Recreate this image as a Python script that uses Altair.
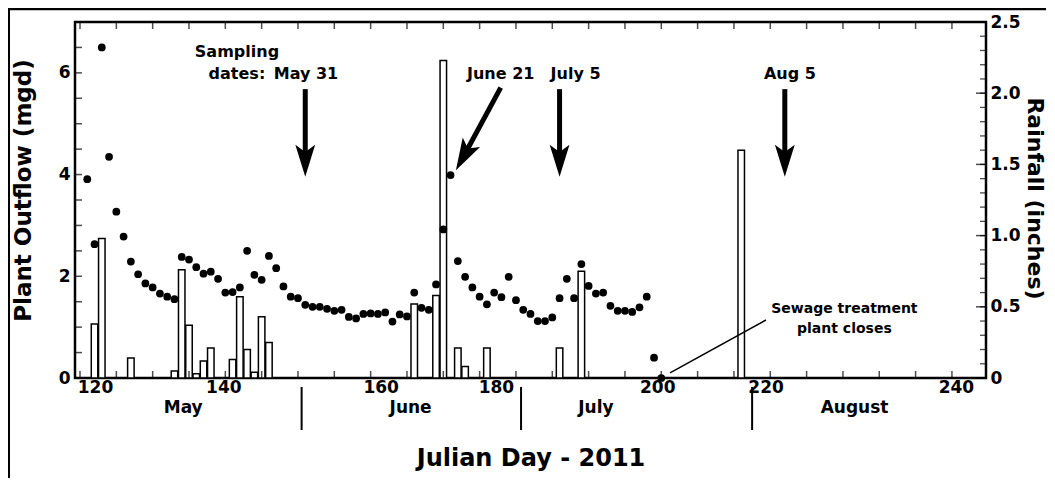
import altair as alt
import pandas as pd

# ---------------- data ----------------
flow_day = list(range(121, 201))
flow_mgd = [3.91, 2.63, 6.50, 4.35, 3.27, 2.78, 2.29, 2.04, 1.86, 1.78,
            1.66, 1.60, 1.55, 2.38, 2.33, 2.18, 2.05, 2.09, 1.95, 1.68,
            1.69, 1.78, 2.50, 2.03, 1.93, 2.40, 2.16, 1.80, 1.60, 1.57,
            1.44, 1.40, 1.40, 1.36, 1.32, 1.34, 1.20, 1.17, 1.26, 1.27,
            1.26, 1.29, 1.11, 1.25, 1.21, 1.68, 1.38, 1.34, 1.84, 2.92,
            3.99, 2.30, 1.99, 1.78, 1.60, 1.45, 1.68, 1.59, 1.99, 1.53,
            1.34, 1.26, 1.12, 1.12, 1.19, 1.57, 1.95, 1.57, 2.24, 1.81,
            1.66, 1.68, 1.42, 1.32, 1.32, 1.30, 1.39, 1.60, 0.40, 0.00]

rain_day = [122, 123, 127, 133, 134, 135, 136, 137, 138, 141, 142, 143,
            144, 145, 146, 166, 169, 170, 172, 173, 176, 186, 189, 211]
rain_in = [0.38, 0.98, 0.14, 0.05, 0.76, 0.37, 0.03, 0.12, 0.21, 0.13, 0.57, 0.20,
           0.04, 0.43, 0.25, 0.52, 0.58, 2.23, 0.21, 0.08, 0.21, 0.21, 0.75, 1.60]

x_tick_labels = [120, 140, 160, 180, 200, 220, 240]
left_tick_labels = [0, 2, 4, 6]
right_tick_labels = [0, 0.5, 1.0, 1.5, 2.0, 2.5]

# annotation anchors (day, mgd)
arrow_day = [151, 186, 217]
arrow_top = [5.68, 5.68, 5.68]
arrow_head = [4.27, 4.27, 4.27]
diag_start_day, diag_start_mgd = [177.9], [5.71]
diag_head_day, diag_head_mgd = [172.8], [4.36]

note_text = ["Sampling", "dates:", "May 31", "June 21", "July 5", "Aug 5",
             "Sewage treatment", "plant closes"]
note_day = [141.6, 141.6, 151.1, 177.9, 188.2, 217.7, 225.2, 225.2]
note_mgd = [6.31, 5.87, 5.87, 5.87, 5.87, 5.87, 1.28, 0.88]
note_size = [16, 16, 16, 16, 16, 16, 14, 14]

sewage_line_day = [201.2]
sewage_line_day2 = [214.4]
sewage_line_mgd = [0.10]
sewage_line_mgd2 = [1.14]

month_names = ["May", "June", "July", "August"]
month_center = [134.2, 165.5, 191.0, 226.6]
month_breaks = [150.5, 180.7, 212.5]

# ---------------- chart ----------------
W, H = 911, 356
FONT = "DejaVu Sans"

xs = alt.Scale(domain=[120, 244], nice=False, zero=False)
yl = alt.Scale(domain=[0, 7], nice=False)
yr = alt.Scale(domain=[0, 2.5], nice=False)

flow_df = pd.DataFrame({"day": flow_day, "mgd": flow_mgd})
rain_df = pd.DataFrame({"day": rain_day, "rain": rain_in})

x_axis = alt.Axis(
    values=x_tick_labels, ticks=False, domain=False, grid=False,
    labelPadding=1, labelFlush=False,
    labelOffset={"condition": [
        {"test": "datum.value == 120", "value": 15},
        {"test": "datum.value == 140", "value": -2},
        {"test": "datum.value == 160", "value": 10},
        {"test": "datum.value == 180", "value": -20},
        {"test": "datum.value == 200", "value": -4},
        {"test": "datum.value == 220", "value": -41},
        {"test": "datum.value == 240", "value": 4}], "value": 0},
    title="Julian Day - 2011", titleY=80, titleBaseline="middle",
    titleFontSize=24)

yl_axis = alt.Axis(values=left_tick_labels, ticks=False, domain=False, grid=False,
                   orient="left", labelPadding=5, title="Plant Outflow (mgd)",
                   titleX=-52, titleY=168, titleFontSize=23, titleBaseline="middle")

yr_axis = alt.Axis(values=right_tick_labels, ticks=False, domain=False, grid=False,
                   orient="right", labelPadding=4,
                   labelExpr="datum.value == 0 ? '0' : format(datum.value, '.1f')",
                   title="Rainfall (inches)", titleX=48, titleY=H / 2 - 2,
                   titleFontSize=22, titleBaseline="middle", titleAngle=90)


def X(field):
    return alt.X(field, type="quantitative", scale=xs, axis=x_axis)


def YL(field):
    return alt.Y(field, type="quantitative", scale=yl, axis=yl_axis)


def YR(field):
    return alt.Y(field, type="quantitative", scale=yr, axis=yr_axis)


points = alt.Chart(flow_df).mark_circle(size=60, color="black", opacity=1).encode(
    x=X("day"), y=YL("mgd"))

bars = alt.Chart(rain_df).mark_bar(size=6.5, fill="white", stroke="black",
                                   strokeWidth=1.5, orient="vertical").encode(
    x=X("day"), y=YR("rain"))

# inward ticks
x_ticks = pd.DataFrame({"day": list(range(120, 245, 5))})
bottom_ticks = alt.Chart(x_ticks).mark_tick(color="black", size=7, thickness=1.5).encode(
    x=X("day"), y=alt.value(H - 3.5))
top_ticks = alt.Chart(x_ticks).mark_tick(color="black", size=7, thickness=1.5).encode(
    x=X("day"), y=alt.value(3.5))

l_ticks = pd.DataFrame({"mgd": [i * 0.5 for i in range(0, 15)]})
left_ticks = alt.Chart(l_ticks).mark_tick(color="black", size=7, thickness=1.5).encode(
    y=YL("mgd"), x=alt.value(3.5))

r_minor = pd.DataFrame({"rain": [i * 0.1 for i in range(0, 26)]})
r_major = pd.DataFrame({"rain": [i * 0.5 for i in range(0, 6)]})
right_minor = alt.Chart(r_minor).mark_tick(color="black", size=6, thickness=1.3).encode(
    y=YR("rain"), x=alt.value(W - 3))
right_major = alt.Chart(r_major).mark_tick(color="black", size=10, thickness=1.5).encode(
    y=YR("rain"), x=alt.value(W - 5))

# arrows
HEAD = "M0,1 L-0.62,-1 L0,-0.55 L0.62,-1 Z"
arr_df = pd.DataFrame({"day": arrow_day, "top": arrow_top, "head": arrow_head})
shafts = alt.Chart(arr_df).mark_rule(color="black", strokeWidth=5).encode(
    x=X("day"), y=YL("top"), y2="head:Q")
heads = alt.Chart(arr_df).mark_point(shape=HEAD, size=1024, filled=True, color="black",
                                     opacity=1, strokeWidth=0).encode(
    x=X("day"), y=YL("head"))

diag_df = pd.DataFrame({"d0": diag_start_day, "m0": diag_start_mgd,
                        "d1": diag_head_day, "m1": diag_head_mgd})
diag_shaft = alt.Chart(diag_df).mark_rule(color="black", strokeWidth=5).encode(
    x=X("d0"), x2="d1:Q", y=YL("m0"), y2="m1:Q")
diag_head = alt.Chart(diag_df).mark_point(shape=HEAD, size=1024, filled=True, color="black",
                                          opacity=1, strokeWidth=0, angle=29).encode(
    x=X("d1"), y=YL("m1"))

sew_df = pd.DataFrame({"d0": sewage_line_day, "d1": sewage_line_day2,
                       "m0": sewage_line_mgd, "m1": sewage_line_mgd2})
sew_line = alt.Chart(sew_df).mark_rule(color="black", strokeWidth=1.5).encode(
    x=X("d0"), x2="d1:Q", y=YL("m0"), y2="m1:Q")

notes_df = pd.DataFrame({"text": note_text, "day": note_day, "mgd": note_mgd, "fs": note_size})
notes = alt.Chart(notes_df).mark_text(font=FONT, fontWeight="bold", color="black",
                                      baseline="alphabetic", align="center").encode(
    x=X("day"), y=YL("mgd"),
    text="text:N",
    size=alt.Size("fs:Q", scale=None, legend=None))

month_df = pd.DataFrame({"name": month_names, "day": month_center})
months = alt.Chart(month_df).mark_text(font=FONT, fontWeight="bold", fontSize=17, color="black",
                                       baseline="alphabetic").encode(
    x=X("day"), y=alt.value(391), text="name:N")

break_df = pd.DataFrame({"day": month_breaks})
breaks = alt.Chart(break_df).mark_rule(color="black", strokeWidth=2).encode(
    x=X("day"), y=alt.value(365), y2=alt.value(408))

# scan frame lines
frame_df = pd.DataFrame({"k": [0]})
frame_top = alt.Chart(frame_df).mark_rule(color="black", strokeWidth=2.5).encode(
    x=alt.value(-75), x2=alt.value(980), y=alt.value(-13))
frame_left = alt.Chart(frame_df).mark_rule(color="black", strokeWidth=2).encode(
    x=alt.value(-66), y=alt.value(-22), y2=alt.value(470))

right_group = alt.layer(bars, right_minor, right_major)
left_group = alt.layer(bottom_ticks, top_ticks, left_ticks, shafts, heads, diag_shaft,
                       diag_head, sew_line, notes, months, breaks, points)

chart = alt.layer(frame_top, frame_left, right_group, left_group).resolve_scale(
    y="independent").properties(
    width=W, height=H,
    autosize=alt.AutoSizeParams(type="none"),
    padding={"left": 67, "top": 14, "right": 60, "bottom": 100},
    background="white",
).configure_view(stroke="black", strokeWidth=2.5).configure_axis(
    labelFont=FONT, labelFontWeight="bold", labelFontSize=17, labelColor="black",
    titleFont=FONT, titleFontWeight="bold", titleColor="black",
)

chart.save("out.html", embed_options={"renderer": "svg", "actions": False})
